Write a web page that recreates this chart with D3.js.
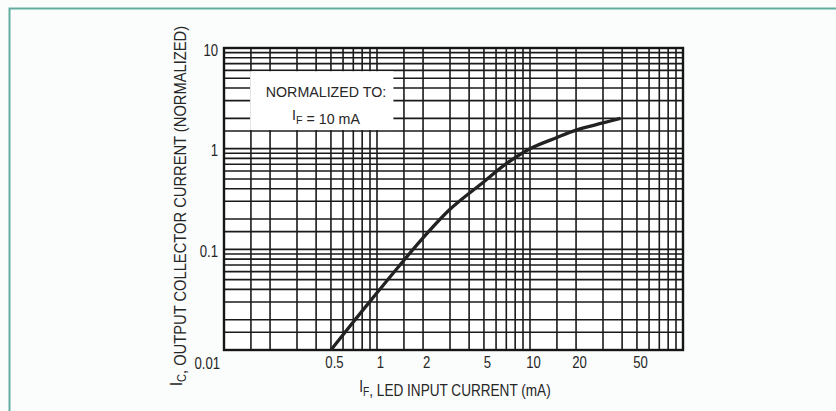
<!DOCTYPE html>
<html>
<head>
<meta charset="utf-8">
<style>
  html, body { margin: 0; padding: 0; background: #fbfcfc; }
  svg { display: block; font-family: "Liberation Sans", Arial, sans-serif; }
</style>
<script src="https://cdn.jsdelivr.net/npm/d3@7"></script>
</head>
<body>
<div id="chart"></div>
<script>
// curve: LED input current (mA) vs normalized collector current
const ledCurrent = [0.5, 0.7, 1, 1.5, 2, 3, 5, 7, 10, 15, 20, 30, 39];
const collectorCurrent = [0.01, 0.019, 0.037, 0.078, 0.13, 0.25, 0.47, 0.71, 1.0, 1.29, 1.53, 1.8, 2.0];

const xTicks = [0.5, 1, 2, 5, 10, 20, 50];
const yTicks = [10, 1, 0.1, 0.01];
const decadesX = [0.1, 1, 10];
const decadesY = [0.01, 0.1, 1];
const gridSteps = [1, 1.5, 2, 3, 4, 5, 6, 7, 8, 9];

const W = 836, H = 411;
const pLeft = 224, pRight = 683, pTop = 48, pBottom = 350;
const squeeze = 0.82; // tick digits are narrow in the scan

const x = d3.scaleLog().domain([0.1, 100]).range([pLeft, pRight]);
const y = d3.scaleLog().domain([0.01, 10]).range([pBottom, pTop]);

const svg = d3.select('#chart').append('svg')
  .attr('width', W).attr('height', H);

// teal page frame
svg.append('rect')
  .attr('x', 9.5).attr('y', 8.5).attr('width', 900).attr('height', 500)
  .attr('fill', 'none').attr('stroke', '#62ad9f').attr('stroke-width', 2);

// plot background
svg.append('rect')
  .attr('x', pLeft).attr('y', pTop).attr('width', pRight - pLeft).attr('height', pBottom - pTop)
  .attr('fill', '#fff');

// grid
const vLines = [];
decadesX.forEach(d => gridSteps.forEach(s => vLines.push(d * s)));
vLines.push(100);
const hLines = [];
decadesY.forEach(d => gridSteps.forEach(s => hLines.push(d * s)));
hLines.push(10);

const grid = svg.append('g').attr('stroke', '#1a1a1a').attr('stroke-width', 1.6);
grid.selectAll('line.v').data(vLines).enter().append('line')
  .attr('class', 'v')
  .attr('x1', d => x(d)).attr('x2', d => x(d))
  .attr('y1', pTop).attr('y2', pBottom);
grid.selectAll('line.h').data(hLines).enter().append('line')
  .attr('class', 'h')
  .attr('x1', pLeft).attr('x2', pRight)
  .attr('y1', d => y(d)).attr('y2', d => y(d));

// frame of the plot
svg.append('rect')
  .attr('x', pLeft).attr('y', pTop).attr('width', pRight - pLeft).attr('height', pBottom - pTop)
  .attr('fill', 'none').attr('stroke', '#161616').attr('stroke-width', 2.4);

// white box for the note
svg.append('rect')
  .attr('x', x(0.15) - 0.8).attr('y', y(6) + 0.9)
  .attr('width', x(1.28) - x(0.15) + 0.8).attr('height', y(1.5) - y(6) - 1.8)
  .attr('fill', '#fff');

// curve
const line = d3.line()
  .x((d, i) => x(ledCurrent[i]))
  .y(d => y(d))
  .curve(d3.curveCatmullRom.alpha(0.5));
svg.append('path')
  .datum(collectorCurrent)
  .attr('d', line)
  .attr('fill', 'none').attr('stroke', '#222').attr('stroke-width', 3.3);

// helper: text squeezed horizontally like the scan
// parts: plain strings, or ['F'] arrays for a subscript
function label(px, py, sx, anchor, parts, size, rot) {
  const g = svg.append('g')
    .attr('transform', `translate(${px},${py})` + (rot ? ` rotate(${rot})` : '') + ` scale(${sx},1)`);
  const t = g.append('text')
    .attr('text-anchor', anchor)
    .attr('font-size', size)
    .attr('fill', '#262626');
  parts.forEach(p => {
    if (Array.isArray(p)) {
      t.append('tspan').attr('dy', 4).attr('font-size', size * 0.75).text(p[0]);
      t.append('tspan').attr('dy', -4).text('');
    } else {
      t.append('tspan').text(p);
    }
  });
  return t;
}

// axes (labels only)
const xAxis = d3.axisBottom(x).tickValues(xTicks).tickSize(0).tickPadding(0)
  .tickFormat(d3.format('~g'));
const gx = svg.append('g').attr('transform', `translate(0,${pBottom})`).call(xAxis);
gx.select('.domain').remove();
gx.selectAll('text')
  .attr('font-family', '"Liberation Sans", Arial, sans-serif')
  .attr('font-size', 16).attr('fill', '#262626')
  .attr('dy', null).attr('y', 18.5)
  .attr('x', 3 / squeeze)
  .attr('transform', `scale(${squeeze},1)`);

const yAxis = d3.axisLeft(y).tickValues(yTicks).tickSize(0).tickPadding(0)
  .tickFormat(d3.format('~g'));
const gy = svg.append('g').attr('transform', `translate(${pLeft},0)`).call(yAxis);
gy.select('.domain').remove();
gy.selectAll('text')
  .attr('font-family', '"Liberation Sans", Arial, sans-serif')
  .attr('font-size', 16).attr('fill', '#262626')
  .attr('dy', null)
  .attr('x', d => (d === 0.01 ? -4 : -6) / squeeze)
  .attr('y', d => d === 0.01 ? 18.5 : 7)
  .attr('transform', `scale(${squeeze},1)`);

// titles and note
label(455, 392, 0.85, 'middle', ['I', ['F'], ', LED INPUT CURRENT (mA)'], 16);
label(182, 206, 0.92, 'middle', ['I', ['C'], ', OUTPUT COLLECTOR CURRENT (NORMALIZED)'], 16, -90);
label(326, 97, 0.95, 'middle', ['NORMALIZED TO:'], 15);
label(326, 120, 0.95, 'middle', ['I', ['F'], ' = 10 mA'], 15);
</script>
</body>
</html>
